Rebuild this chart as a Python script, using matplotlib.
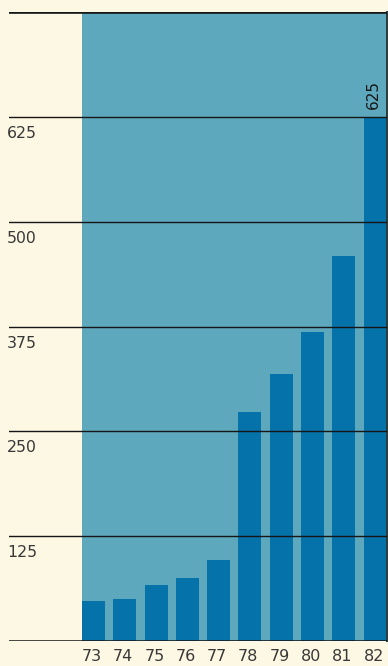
import matplotlib
matplotlib.use("Agg")
import matplotlib.pyplot as plt
import matplotlib.transforms as mtransforms

# --- data ---
years = ["73", "74", "75", "76", "77", "78", "79", "80", "81", "82"]
values = [48, 50, 67, 75, 96, 273, 318, 368, 459, 625]
grid_levels = [125, 250, 375, 500, 625]
grid_labels = ["125", "250", "375", "500", "625"]
value_label = "625"

# --- colours ---
paper = "#fcf8e3"
panel = "#5ea8be"
bar_col = "#0572aa"
ink = "#161616"
text_col = "#383838"

plt.rcParams["font.family"] = ["DejaVu Sans"]

W, H, DPI = 388, 666, 100
fig = plt.figure(figsize=(W / DPI, H / DPI), dpi=DPI, facecolor=paper)

# axes from the left end of the rules to the right edge of the picture
left_px, right_px, top_px, bot_px = 9, 387, 12, 641
ax = fig.add_axes([left_px / W, 1 - bot_px / H,
                   (right_px - left_px) / W, (bot_px - top_px) / H])
ax.set_facecolor(paper)

spacing = 31.3
centre0 = 93.5
bar_w = 23 / spacing
ax.set_xlim((left_px - centre0) / spacing, (right_px - centre0) / spacing)
ax.set_ylim(0, 750)

# tinted panel behind the bars
ax.axvspan(-bar_w / 2, ax.get_xlim()[1], color=panel, zorder=0, lw=0)

x = list(range(len(years)))
ax.bar(x, values, width=bar_w, color=bar_col, zorder=2, lw=0)

# horizontal rules
ax.axhline(0, color=ink, lw=1.1, zorder=3)
for lv in grid_levels:
    ax.axhline(lv, color=ink, lw=1.0, zorder=3)
ax.axhline(750, color=ink, lw=2.6, zorder=3)

for s in ["top", "left", "bottom"]:
    ax.spines[s].set_visible(False)
ax.spines["right"].set_color("#2a3a3a")
ax.spines["right"].set_linewidth(1.4)
ax.tick_params(left=False, bottom=False, labelleft=False, labelbottom=False)

# level labels sit just under each rule
lab_tr = mtransforms.blended_transform_factory(ax.transAxes, ax.transData)
lab_tr = lab_tr + mtransforms.ScaledTranslation(0, -9 / DPI, fig.dpi_scale_trans)
for lv, lab in zip(grid_levels, grid_labels):
    ax.text(-0.005, lv, lab, transform=lab_tr, ha="left", va="top",
            fontsize=11.3, color=text_col)

# year labels under the baseline
for xi, yr in zip(x, years):
    ax.text(xi - 0.05, -18, yr, ha="center", va="center", fontsize=11.5,
            color=text_col, clip_on=False)

# value over the last bar
ax.text(x[-1] - 0.05, values[-1] + 9, value_label, rotation=90,
        ha="center", va="bottom", fontsize=11, color=ink)

fig.savefig("out.png", dpi=DPI, facecolor=paper)
